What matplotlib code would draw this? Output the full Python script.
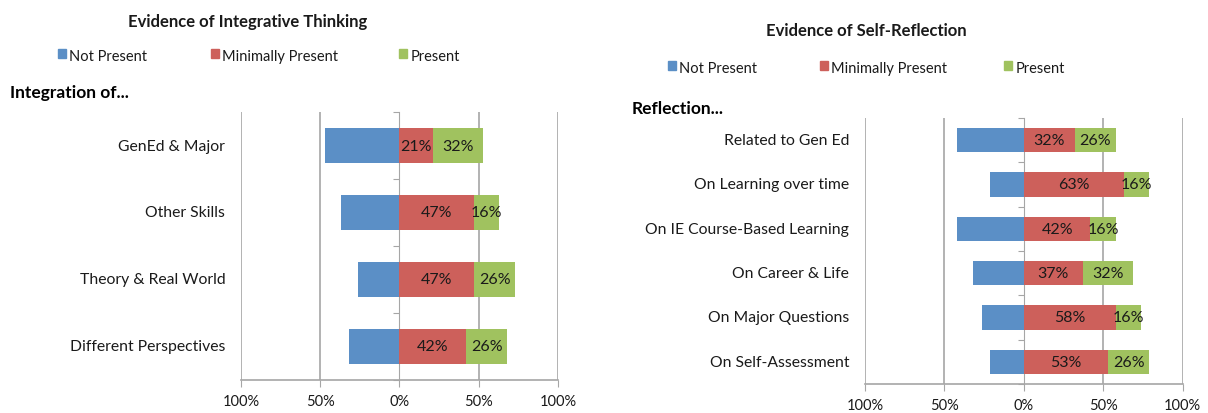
import numpy as np
import matplotlib
matplotlib.use('Agg')
import matplotlib.pyplot as plt
from matplotlib.transforms import blended_transform_factory
from matplotlib.patches import Rectangle

plt.rcParams['font.family'] = ['Lato', 'DejaVu Sans']

# data (percent)
left_cats = ["GenEd & Major", "Other Skills", "Theory & Real World", "Different Perspectives"]
left_not = [47, 37, 26, 32]
left_min = [21, 47, 47, 42]
left_pres = [32, 16, 26, 26]

right_cats = ["Related to Gen Ed", "On Learning over time", "On IE Course-Based Learning",
              "On Career & Life", "On Major Questions", "On Self-Assessment"]
right_not = [42, 21, 42, 32, 26, 21]
right_min = [32, 63, 42, 37, 58, 53]
right_pres = [26, 16, 16, 32, 16, 26]

tick_vals = [-100, -50, 0, 50, 100]
tick_labels = ["100%", "50%", "0%", "50%", "100%"]
legend_names = ["Not Present", "Minimally Present", "Present"]

c_blue = '#5b8fc6'
c_red = '#cd605b'
c_green = '#a0c25f'
grid_c = '#a6a6a6'
txt_c = '#1a1a1a'


def draw_panel(fig, rect, cats, v_not, v_min, v_pres, height):
    ax = fig.add_axes(rect)
    n = len(cats)
    y = np.arange(n)
    ax.barh(y, [-v for v in v_not], height=height, color=c_blue, edgecolor='none')
    ax.barh(y, v_min, height=height, color=c_red, edgecolor='none')
    ax.barh(y, v_pres, left=v_min, height=height, color=c_green, edgecolor='none')
    for i in range(n):
        ax.text(v_min[i] / 2, y[i], f"{v_min[i]}%", ha='center', va='center',
                fontsize=11.5, color=txt_c)
        ax.text(v_min[i] + v_pres[i] / 2, y[i], f"{v_pres[i]}%", ha='center', va='center',
                fontsize=11.5, color=txt_c)
    ax.set_xlim(-100, 100)
    ax.set_ylim(n - 0.5, -0.5)
    for v in [-100, -50, 50, 100]:
        ax.axvline(v, color=grid_c, lw=1.2, zorder=0)
    for s in ['top', 'right']:
        ax.spines[s].set_visible(False)
    ax.spines['left'].set_position(('data', 0))
    ax.spines['left'].set_color(grid_c)
    ax.spines['left'].set_zorder(0)
    ax.spines['bottom'].set_color(grid_c)
    ax.spines['bottom'].set_linewidth(1.2)
    ax.set_yticks(np.arange(n + 1) - 0.5)
    ax.set_yticklabels([])
    ax.tick_params(axis='y', length=4, color=grid_c)
    ax.set_xticks(tick_vals)
    ax.set_xticklabels(tick_labels, fontsize=10.5, color=txt_c)
    ax.tick_params(axis='x', length=5, color=grid_c, pad=5)
    tr = blended_transform_factory(ax.transAxes, ax.transData)
    for i, c in enumerate(cats):
        ax.text(-0.05, y[i], c, transform=tr, ha='right', va='center', fontsize=11.3, color=txt_c)
    return ax


def draw_legend(fig, xs, yf):
    for x, name, col in zip(xs, legend_names, [c_blue, c_red, c_green]):
        fig.patches.append(Rectangle((x, yf - 0.006), 0.0065, 0.022, transform=fig.transFigure,
                                     color=col, figure=fig))
        fig.text(x + 0.0095, yf, name, ha='left', va='center', fontsize=10.5, color=txt_c)


fig = plt.figure(figsize=(12.08, 4.14), dpi=100)

draw_panel(fig, [0.1995, 0.080, 0.2624, 0.647], left_cats, left_not, left_min, left_pres, 0.52)
draw_panel(fig, [0.716, 0.070, 0.263, 0.643], right_cats, right_not, right_min, right_pres, 0.55)

fig.text(248 / 1208, 1 - 22 / 414, "Evidence of Integrative Thinking", ha='center', va='center',
         fontsize=12, fontweight='bold', color=txt_c)
fig.text(866 / 1208, 1 - 31 / 414, "Evidence of Self-Reflection", ha='center', va='center',
         fontsize=12, fontweight='bold', color=txt_c)

draw_legend(fig, [58 / 1208, 211 / 1208, 399 / 1208], 1 - 57 / 414)
draw_legend(fig, [668 / 1208, 820 / 1208, 1004 / 1208], 1 - 69 / 414)

fig.text(10 / 1208, 1 - 93 / 414, "Integration of...", ha='left', va='center',
         fontsize=12.5, fontweight='bold', color='black')
fig.text(632 / 1208, 1 - 109 / 414, "Reflection...", ha='left', va='center',
         fontsize=12.5, fontweight='bold', color='black')

fig.savefig('out.png', dpi=100, facecolor='white')
